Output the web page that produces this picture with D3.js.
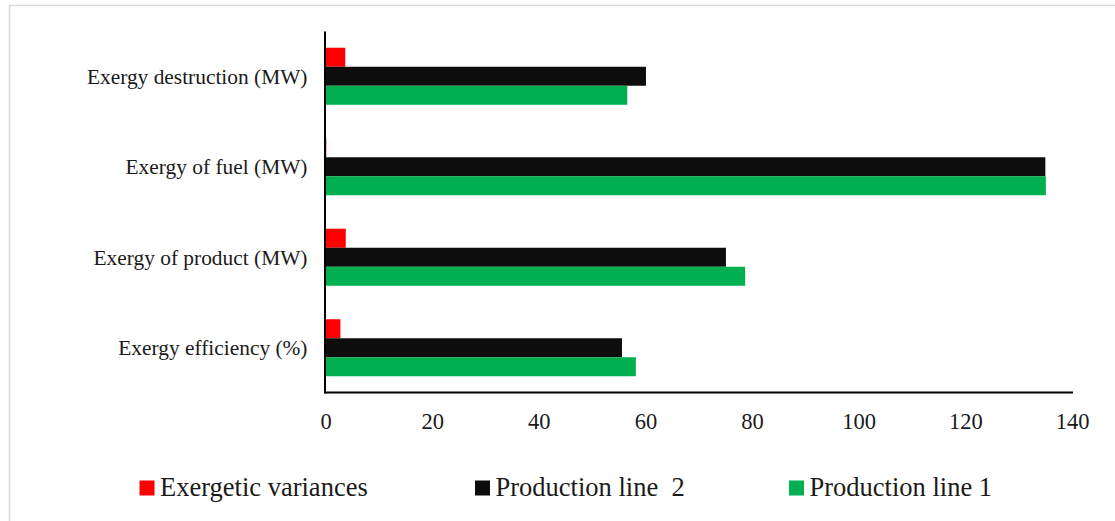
<!DOCTYPE html>
<html>
<head>
<meta charset="utf-8">
<script src="https://cdn.jsdelivr.net/npm/d3@7"></script>
<style>
  html, body { margin: 0; padding: 0; background: #fff; }
  svg { display: block; }
</style>
</head>
<body>
<svg id="chart" width="1115" height="521"></svg>
<script>
const categories = ["Exergy destruction (MW)", "Exergy of fuel (MW)", "Exergy of product (MW)", "Exergy efficiency (%)"];
const seriesNames = ["Exergetic variances", "Production line  2", "Production line 1"];
const seriesColors = ["#ff0000", "#0d0d0d", "#00b050"];
const variances = [3.7, 0.15, 3.8, 2.8];
const line2 = [60.1, 135.0, 75.1, 55.6];
const line1 = [56.6, 135.1, 78.7, 58.2];
const xTicks = [0, 20, 40, 60, 80, 100, 120, 140];

const seriesValues = [variances, line2, line1];
const FONT = "Liberation Serif, DejaVu Serif, serif";

const svg = d3.select("#chart");

// outer border
svg.append("rect")
  .attr("x", 9.5).attr("y", 5.5)
  .attr("width", 1120).attr("height", 530)
  .attr("fill", "none").attr("stroke", "#d9d9d9").attr("stroke-width", 1.5);

const x = d3.scaleLinear().domain([0, 140]).range([325.5, 1072]);
const y = d3.scaleBand().domain(categories).range([31, 393]).padding(0);
const groupH = 57;
const inner = d3.scaleBand().domain(d3.range(seriesValues.length)).range([0, groupH]);

// bars
categories.forEach((c, ci) => {
  const cy = y(c) + y.bandwidth() / 2;
  seriesValues.forEach((vals, si) => {
    svg.append("rect")
      .attr("x", x(0))
      .attr("y", cy - groupH / 2 + inner(si))
      .attr("width", x(vals[ci]) - x(0))
      .attr("height", inner.bandwidth())
      .attr("fill", seriesColors[si]);
  });
  svg.append("text")
    .attr("x", 307.5)
    .attr("y", cy)
    .attr("dy", "0.35em")
    .attr("text-anchor", "end")
    .attr("font-family", FONT)
    .attr("font-size", "21.4px")
    .attr("fill", "#1a1a1a")
    .text(c);
});

// x axis
const xAxis = d3.axisBottom(x).tickValues(xTicks).tickSize(0).tickPadding(0).tickFormat(d3.format("d"));
const gx = svg.append("g").attr("transform", "translate(0,392.5)").call(xAxis)
  .attr("font-family", FONT).attr("font-size", "22.5px");
gx.select(".domain").attr("stroke", "#000").attr("stroke-width", 2)
  .attr("d", `M${x(0) - 1},0H${x(140) + 1}`);
gx.selectAll(".tick text")
  .attr("y", 36.5)
  .attr("dy", null)
  .attr("fill", "#1a1a1a");

// y axis line
svg.append("line")
  .attr("x1", x(0) - 0.5).attr("x2", x(0) - 0.5)
  .attr("y1", 31.5).attr("y2", 393.5)
  .attr("stroke", "#000").attr("stroke-width", 2);

// legend
const legendX = [139.5, 475, 789];
seriesNames.forEach((name, i) => {
  const g = svg.append("g").attr("transform", `translate(${legendX[i]},0)`);
  g.append("rect").attr("x", 0).attr("y", 480.5).attr("width", 15).attr("height", 15)
    .attr("fill", seriesColors[i]);
  g.append("text").attr("x", 20.5).attr("y", 496)
    .attr("font-family", FONT)
    .attr("font-size", "26.5px")
    .attr("fill", "#1a1a1a")
    .attr("xml:space", "preserve")
    .style("white-space", "pre")
    .text(name);
});
</script>
</body>
</html>
